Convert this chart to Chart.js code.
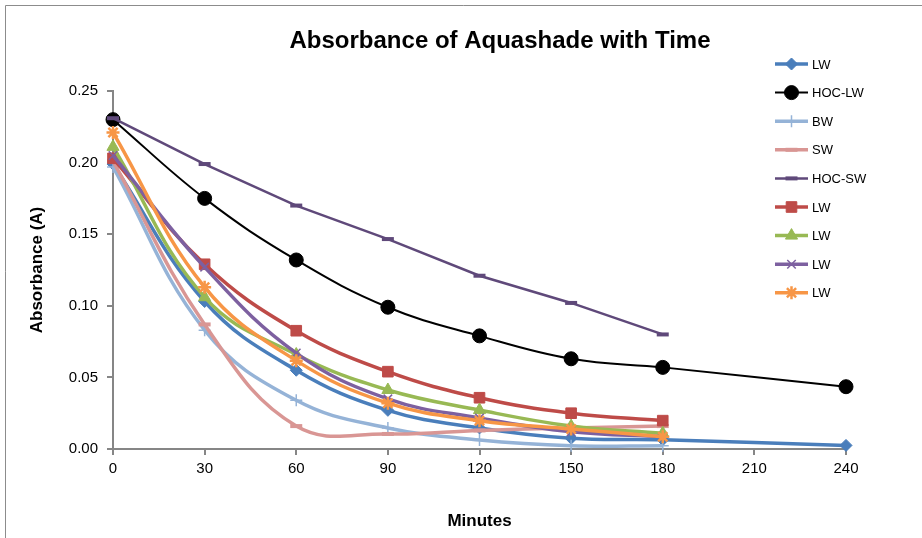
<!DOCTYPE html>
<html>
<head>
<meta charset="utf-8">
<script src="https://cdn.jsdelivr.net/npm/chart.js@4.4.0/dist/chart.umd.min.js"></script>
<style>
  body { margin: 0; background: #fff; }
  canvas { display: block; }
</style>
</head>
<body>
<canvas id="absChart" width="922" height="538"></canvas>
<script>
// minutes on the x axis
const minutes = [0, 30, 60, 90, 120, 150, 180];
const minutesLong = [0, 30, 60, 90, 120, 150, 180, 240];
const xTicks = [0, 30, 60, 90, 120, 150, 180, 210, 240];

// absorbance readings
const lwBlue   = [0.199, 0.103, 0.055, 0.027, 0.0147, 0.0075, 0.0065, 0.0025];
const hocLw    = [0.230, 0.175, 0.132, 0.099, 0.079, 0.063, 0.057, 0.0435];
const bw       = [0.197, 0.083, 0.034, 0.0147, 0.0063, 0.0023, 0.0023];
const sw       = [0.201, 0.087, 0.016, 0.0105, 0.013, 0.0147, 0.016];
const hocSw    = [0.231, 0.199, 0.170, 0.1466, 0.121, 0.102, 0.080];
const lwRed    = [0.203, 0.129, 0.0826, 0.054, 0.0358, 0.025, 0.0198];
const lwGreen  = [0.211, 0.106, 0.066, 0.0412, 0.0272, 0.016, 0.011];
const lwPurple = [0.205, 0.127, 0.067, 0.035, 0.0216, 0.012, 0.0086];
const lwOrange = [0.221, 0.113, 0.0617, 0.032, 0.0198, 0.014, 0.0086];

const yTicks = [0, 0.05, 0.10, 0.15, 0.20, 0.25];

function pts(xs, ys) {
  return ys.map((v, i) => ({ x: xs[i], y: v }));
}

function series(label, xs, ys, color, style, radius, lineW, markBorder) {
  return {
    label: label,
    data: pts(xs, ys),
    borderColor: color,
    backgroundColor: color,
    borderWidth: lineW,
    pointStyle: style,
    pointRadius: radius,
    pointBorderWidth: markBorder,
    pointBackgroundColor: color,
    pointBorderColor: color,
    tension: 0.4,
    clip: false
  };
}

const datasets = [
  series('LW', minutesLong, lwBlue, '#4A7EBB', 'rectRot', 6, 3.5, 1),
  series('HOC-LW', minutesLong, hocLw, '#000000', 'circle', 7, 2, 1),
  series('BW', minutes, bw, '#95B3D7', 'cross', 6, 3.5, 1.5),
  series('SW', minutes, sw, '#D99694', 'line', 6, 3.5, 4),
  series('HOC-SW', minutes, hocSw, '#5F497A', 'line', 6, 2.5, 4),
  series('LW', minutes, lwRed, '#BE4B48', 'rect', 7.5, 3.5, 1),
  series('LW', minutes, lwGreen, '#98B954', 'triangle', 7, 3.5, 1),
  series('LW', minutes, lwPurple, '#7D60A0', 'crossRot', 6, 3.5, 1.5),
  series('LW', minutes, lwOrange, '#F79646', 'star', 6.5, 3.5, 2.5)
];
datasets[4].tension = 0;
// later series sit on top, like the original
datasets.forEach((d, i) => { d.order = datasets.length - i; });

const frameAndLegend = {
  id: 'frameAndLegend',
  beforeDraw(chart) {
    const ctx = chart.ctx;
    ctx.save();
    ctx.fillStyle = '#fff';
    ctx.fillRect(0, 0, chart.width, chart.height);
    ctx.strokeStyle = '#8c8c8c';
    ctx.lineWidth = 1;
    ctx.beginPath();
    ctx.moveTo(5.5, chart.height);
    ctx.lineTo(5.5, 5.5);
    ctx.lineTo(chart.width, 5.5);
    ctx.stroke();
    ctx.restore();
  },
  afterDraw(chart) {
    const ctx = chart.ctx;
    ctx.save();
    // title
    ctx.fillStyle = '#000';
    ctx.font = 'bold 24px "Liberation Sans", Arial, sans-serif';
    ctx.textAlign = 'center';
    ctx.textBaseline = 'alphabetic';
    ctx.fillText('Absorbance of Aquashade with Time', 500, 48);

    // legend
    chart.data.datasets.forEach((ds, i) => {
      const y = 64 + i * 28.6;
      ctx.strokeStyle = ds.borderColor;
      ctx.lineWidth = ds.borderWidth;
      ctx.beginPath();
      ctx.moveTo(775, y);
      ctx.lineTo(808, y);
      ctx.stroke();
      ctx.fillStyle = ds.pointBackgroundColor;
      ctx.strokeStyle = ds.pointBorderColor;
      ctx.lineWidth = ds.pointBorderWidth;
      Chart.helpers.drawPoint(ctx, {
        pointStyle: ds.pointStyle,
        radius: ds.pointRadius,
        borderWidth: ds.pointBorderWidth,
        rotation: 0
      }, 791.5, y);
      ctx.fillStyle = '#000';
      ctx.font = '13px "Liberation Sans", Arial, sans-serif';
      ctx.textAlign = 'left';
      ctx.textBaseline = 'middle';
      ctx.fillText(ds.label, 812, y + 1);
    });
    ctx.restore();
  }
};

new Chart(document.getElementById('absChart'), {
  type: 'line',
  data: { datasets: datasets },
  plugins: [frameAndLegend],
  options: {
    responsive: false,
    animation: false,
    layout: { padding: { top: 91, right: 76, left: 0, bottom: 0 } },
    plugins: {
      legend: { display: false },
      title: { display: false },
      tooltip: { enabled: false }
    },
    scales: {
      x: {
        type: 'linear',
        min: 0,
        max: 240,
        afterFit: s => { s.height = 89; },
        afterBuildTicks: s => { s.ticks = xTicks.map(v => ({ value: v })); },
        ticks: {
          padding: 5,
          color: '#000',
          font: { family: '"Liberation Sans", Arial, sans-serif', size: 15 }
        },
        grid: { drawOnChartArea: false, drawTicks: true, tickLength: 6, color: '#868686', lineWidth: 2 },
        border: { color: '#868686', width: 2 },
        title: {
          display: true,
          text: 'Minutes',
          color: '#000',
          padding: { top: 0, bottom: 6 },
          font: { family: '"Liberation Sans", Arial, sans-serif', size: 17, weight: 'bold' }
        }
      },
      y: {
        min: 0,
        max: 0.25,
        afterFit: s => { s.width = 113; },
        afterBuildTicks: s => { s.ticks = yTicks.map(v => ({ value: v })); },
        ticks: {
          padding: 9,
          color: '#000',
          callback: v => Number(v).toFixed(2),
          font: { family: '"Liberation Sans", Arial, sans-serif', size: 15 }
        },
        grid: { drawOnChartArea: false, drawTicks: true, tickLength: 6, color: '#868686', lineWidth: 2 },
        border: { color: '#868686', width: 2 },
        title: {
          display: true,
          text: 'Absorbance (A)',
          color: '#000',
          padding: { top: 27, bottom: 0 },
          font: { family: '"Liberation Sans", Arial, sans-serif', size: 17, weight: 'bold' }
        }
      }
    }
  }
});
</script>
</body>
</html>
